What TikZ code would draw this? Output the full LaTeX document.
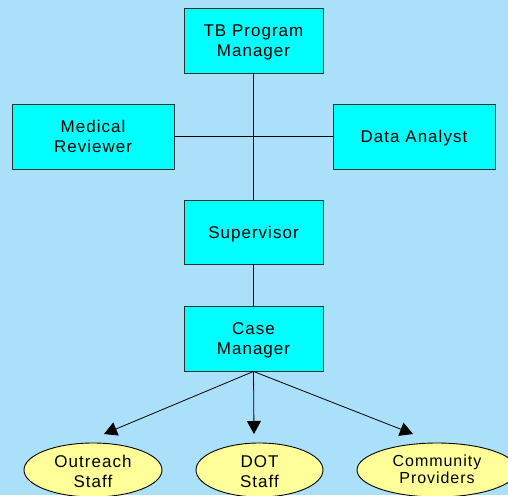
\documentclass[tikz,border=0pt]{standalone}
\usepackage{fontspec}
\setmainfont{Liberation Sans}[LetterSpace=6]
\usetikzlibrary{arrows.meta,shapes.geometric}
\definecolor{bg}{RGB}{170,224,250}
\definecolor{boxfill}{RGB}{0,255,255}
\definecolor{boxline}{RGB}{40,50,50}
\definecolor{ellfill}{RGB}{255,255,153}
\begin{document}
\begin{tikzpicture}[x=1pt,y=-1pt,
  box/.style={draw=boxline, line width=0.9pt, fill=boxfill, align=center, inner sep=0pt,
    text depth=0pt, minimum width=139pt, minimum height=65pt, font=\fontsize{17}{20}\selectfont},
  wide/.style={minimum width=162pt},
  oval/.style={ellipse, draw=black, line width=0.9pt, fill=ellfill, inner sep=0pt, minimum height=54pt},
  lbl/.style={align=center, inner sep=0pt, text depth=0pt, font=\fontsize{17}{20}\selectfont},
  conn/.style={draw=black, line width=0.8pt},
  arr/.style={conn, -{Triangle[length=13pt,width=14pt]}}]
\useasboundingbox (0,0) rectangle (508,495);
\fill[bg] (0,0) rectangle (508,495);
\clip (0,0) rectangle (508,495);

\node[box] (tb) at (253.5,40.5) {TB Program\\Manager};
\node[box,wide] (med) at (93,136.5) {Medical\\Reviewer};
\node[box,wide] (data) at (414,136.5) {Data Analyst};
\node[box,minimum height=64pt] (sup) at (253.5,232) {Supervisor};
\node[box] (cm) at (253.5,338.5) {Case\\Manager};

\node[oval,minimum width=138pt] (out) at (93,470) {};
\node[oval,minimum width=127pt] (dot) at (259.5,470) {};
\node[oval,minimum width=160pt] (com) at (437,470) {};
\node[lbl] (outt) at (93,471.5) {Outreach\\Staff};
\node[lbl] (dott) at (259.5,471.5) {DOT\\Staff};
\node[lbl,font=\fontsize{16}{17}\selectfont] (comt) at (437,469.5) {Community\\Providers};

\coordinate (j) at (tb.south |- med.east);
\draw[conn] (tb.south) -- (sup.north);
\draw[conn] (med.east) -- (data.west);
\draw[conn] (sup.south) -- (cm.north);

\coordinate (t1) at (104,434);
\coordinate (t2) at (254,434);
\coordinate (t3) at (413,434);
\draw[arr] (cm.south) -- (t1);
\draw[arr] (cm.south) -- (t2);
\draw[arr] (cm.south) -- (t3);
\end{tikzpicture}
\end{document}
